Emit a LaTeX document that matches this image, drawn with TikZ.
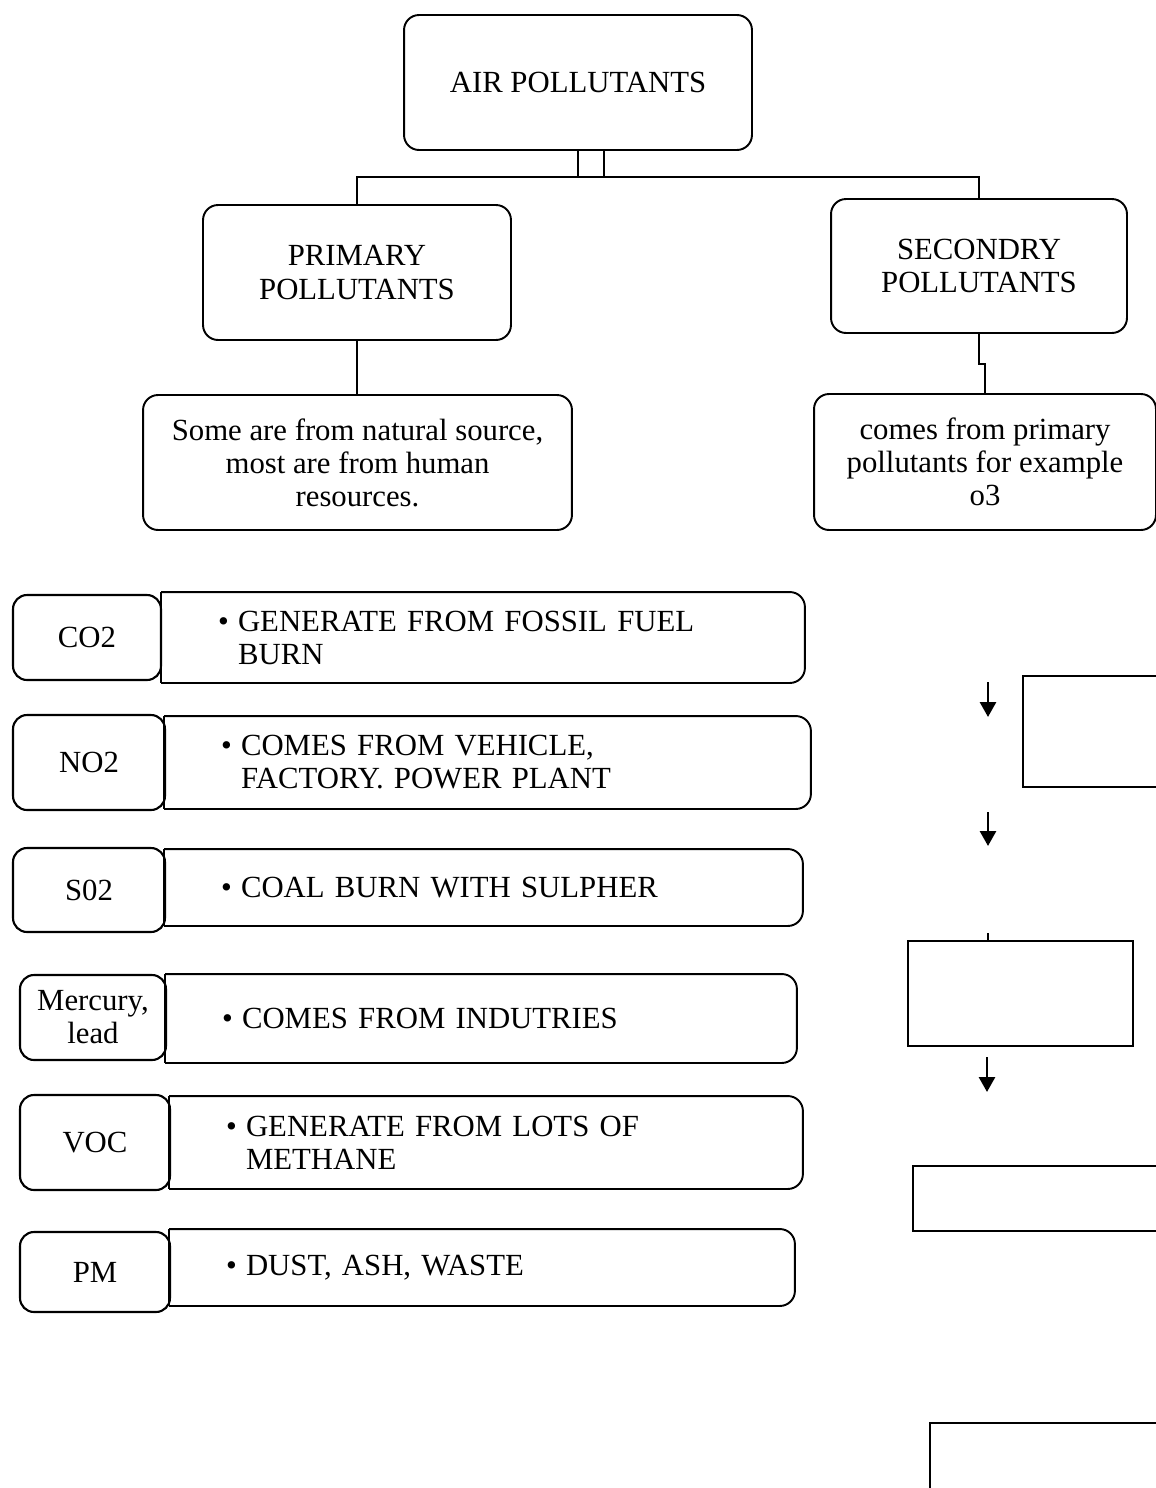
\documentclass[tikz,border=0pt]{standalone}
\usepackage{fontspec}
\setmainfont{Liberation Serif}
\usetikzlibrary{arrows.meta}
\newcommand\txt{\fontsize{17.5}{18.8}\selectfont}
\newcommand\bul{\makebox[0.4cm][l]{\textbullet}}
\tikzset{
 rbox/.style={draw,line width=1.1pt,rounded corners=0.3cm,align=center},
 lbl/.style={draw,line width=1.2pt,rounded corners=0.28cm,align=center,inner sep=0pt},
 dtl/.style={align=left},
 ebox/.style={draw,line width=0.8pt,inner sep=0pt},
 arr/.style={line width=1.6pt,-{Triangle[width=0.32cm,length=0.3cm]}}
}
\begin{document}
\begin{tikzpicture}[x=0.02cm,y=-0.02cm,line width=1.1pt,every node/.style={font=\txt}]
\useasboundingbox (0,0) rectangle (1156,1488);
% tree
\node[rbox,minimum width=6.96cm,minimum height=2.7cm] (air) at (578,82.5) {AIR POLLUTANTS};
\node[rbox,minimum width=6.16cm,minimum height=2.7cm] (prim) at (357,272.5) {PRIMARY\\POLLUTANTS};
\node[rbox,minimum width=5.92cm,minimum height=2.68cm] (sec) at (979,266) {SECONDRY\\POLLUTANTS};
\node[rbox,minimum width=8.58cm,minimum height=2.7cm] (primd) at (357.5,462.5)
 {Some are from natural source,\\most are from human\\resources.};
\node[rbox,minimum width=6.84cm,minimum height=2.72cm] (secd) at (985,462)
 {comes from primary\\pollutants for example\\o3};
\draw (air.south) -- ++(0,26) -| (prim.north);
\draw ([xshift=.52cm]air.south) -- ++(0,26) -| (sec.north);
\draw (air.south) ++(0,26) -- ++(26,0);
\draw (prim.south) -- (prim.south |- primd.north);
\draw (sec.south) -- ++(0,30) -| (secd.north);
% pollutant list
\node[dtl,minimum width=12.84cm,minimum height=1.78cm,text width=10.6cm] (co2d) at (483,637.5)
 {\bul GENERATE FROM FOSSIL FUEL\\\hspace*{0.4cm}BURN};
\node[dtl,minimum width=12.9cm,minimum height=1.82cm,text width=10.66cm] (no2d) at (487.5,762.5)
 {\bul COMES FROM VEHICLE,\\\hspace*{0.4cm}FACTORY. POWER PLANT};
\node[dtl,minimum width=12.74cm,minimum height=1.5cm,text width=10.5cm] (so2d) at (483.5,887.5)
 {\bul COAL BURN WITH SULPHER};
\node[dtl,minimum width=12.6cm,minimum height=1.74cm,text width=10.36cm] (hgd) at (481,1018.5)
 {\bul COMES FROM INDUTRIES};
\node[dtl,minimum width=12.64cm,minimum height=1.82cm,text width=10.4cm] (vocd) at (486,1142.5)
 {\bul GENERATE FROM LOTS OF\\\hspace*{0.4cm}METHANE};
\node[dtl,minimum width=12.48cm,minimum height=1.5cm,text width=10.24cm] (pmd) at (482,1267.5)
 {\bul DUST, ASH, WASTE};
\foreach \n in {co2d,no2d,so2d,hgd,vocd,pmd}{
 \draw[rounded corners=0.3cm] (\n.north west) -- (\n.north east) -- (\n.south east) -- (\n.south west);
 \draw (\n.north west) -- (\n.south west);
}
\node[lbl,minimum width=2.96cm,minimum height=1.7cm] (co2) at (87,637.5) {CO2};
\node[lbl,minimum width=3.04cm,minimum height=1.9cm] (no2) at (89,762.5) {NO2};
\node[lbl,minimum width=3.04cm,minimum height=1.68cm] (so2) at (89,890) {S02};
\node[lbl,minimum width=2.92cm,minimum height=1.7cm] (hg) at (93,1017.5) {Mercury,\\lead};
\node[lbl,minimum width=3cm,minimum height=1.9cm] (voc) at (95,1142.5) {VOC};
\node[lbl,minimum width=3cm,minimum height=1.6cm] (pm) at (95,1272) {PM};
% right column
\begin{scope}
\clip (0,0) rectangle (1156,1488);
\node[ebox,minimum width=4.14cm,minimum height=2.22cm] (boxa) at (1126.5,731.5) {};
\node[ebox,minimum width=4.5cm,minimum height=2.1cm] (boxb) at (1020.5,993.5) {};
\node[ebox,minimum width=5.74cm,minimum height=1.3cm] (boxc) at (1056.5,1198.5) {};
\node[ebox,minimum width=5.4cm,minimum height=2.74cm] (boxd) at (1065,1491.5) {};
\end{scope}
\coordinate (a1) at (988,682); \coordinate (a1e) at (988,717);
\coordinate (a2) at (988,812); \coordinate (a2e) at (988,846);
\coordinate (s1) at (988,933);
\coordinate (a3) at (987,1057); \coordinate (a3e) at (987,1092);
\draw[arr] (a1) -- (a1e);
\draw[arr] (a2) -- (a2e);
\draw[line width=1.6pt] (s1) -- (s1 |- boxb.north);
\draw[arr] (a3) -- (a3e);
\end{tikzpicture}
\end{document}
